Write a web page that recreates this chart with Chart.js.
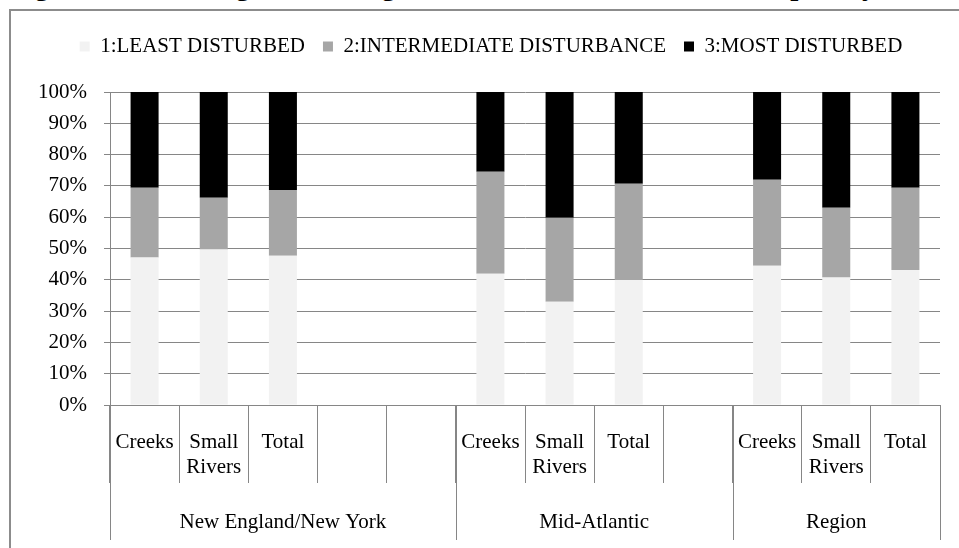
<!DOCTYPE html>
<html>
<head>
<meta charset="utf-8">
<script src="https://cdn.jsdelivr.net/npm/chart.js@4.4.1/dist/chart.umd.min.js"></script>
<style>
  html, body { margin: 0; padding: 0; background: #fff; overflow: hidden; }
  #wrap { position: relative; width: 959px; height: 548px; overflow: hidden; }
  #title { position: absolute; left: 9px; top: -29px; font: bold 29px "Liberation Serif", "Times New Roman", serif; line-height: 29px; white-space: nowrap; color: #000; }
  #frame { position: absolute; left: 9px; top: 9px; width: 2000px; height: 2000px; border: 2px solid #8c8c8c; }
  #myChart { position: absolute; left: 0; top: 0; }
</style>
</head>
<body>
<div id="wrap">
  <div id="title">Figure 4. Percentage of the Region's total wadeable stream samples by disturbance class</div>
  <div id="frame"></div>
  <canvas id="myChart" width="959" height="548"></canvas>
</div>
<script>
// categories (12 slots, some left blank like in the original sheet)
const labels = ['Creeks', ['Small', 'Rivers'], 'Total', '', '',
                'Creeks', ['Small', 'Rivers'], 'Total', '',
                'Creeks', ['Small', 'Rivers'], 'Total'];
const groups = ['New England/New York', 'Mid-Atlantic', 'Region'];
const groupBounds = [0, 5, 9, 12];

const leastDisturbed = [47.1, 49.7, 47.7, null, null, 41.9, 33.0, 39.9, null, 44.5, 40.7, 43.1];
const intermediate   = [22.3, 16.5, 21.0, null, null, 32.6, 26.8, 30.8, null, 27.5, 22.3, 26.3];
const mostDisturbed  = [30.6, 33.8, 31.3, null, null, 25.5, 40.2, 29.3, null, 28.0, 37.0, 30.6];

const font = '"Liberation Serif", "Times New Roman", serif';
const gridColor = '#868686';

Chart.defaults.color = '#000';
Chart.defaults.font.family = font;

// push the plot down under the legend, and nudge the legend right a bit
const legendMargin = {
    id: 'legendMargin',
    beforeInit(chart) {
        const fitValue = chart.legend.fit;
        chart.legend.fit = function fit() {
            fitValue.bind(chart.legend)();
            this.height = 74;
        };
    },
    afterLayout(chart) {
        chart.legend.left += 2;
        chart.legend.right += 2;
    }
};

// group separators and group names under the category labels
const groupAxis = {
    id: 'groupAxis',
    afterDraw(chart) {
        const ctx = chart.ctx;
        const x = chart.scales.x;
        const slot = x.width / labels.length;
        const edge = (i) => x.getPixelForValue(0) - slot / 2 + i * slot;
        ctx.save();
        ctx.strokeStyle = gridColor;
        ctx.lineWidth = 1;
        groupBounds.forEach(function(b) {
            const px = Math.round(edge(b)) + 0.5;
            ctx.beginPath();
            ctx.moveTo(px, x.top);
            ctx.lineTo(px, 540);
            ctx.stroke();
        });
        ctx.fillStyle = '#000';
        ctx.font = '21px ' + font;
        ctx.textAlign = 'center';
        ctx.textBaseline = 'middle';
        groups.forEach(function(g, i) {
            ctx.fillText(g, (edge(groupBounds[i]) + edge(groupBounds[i + 1])) / 2, 522);
        });
        ctx.restore();
    }
};

const data = {
    labels: labels,
    datasets: [{
        label: '1:LEAST DISTURBED',
        backgroundColor: '#f2f2f2',
        data: leastDisturbed,
    }, {
        label: '2:INTERMEDIATE DISTURBANCE',
        backgroundColor: '#a6a6a6',
        data: intermediate,
    }, {
        label: '3:MOST DISTURBED',
        backgroundColor: '#000000',
        data: mostDisturbed,
    }]
};

const config = {
    type: 'bar',
    data: data,
    options: {
        responsive: false,
        animation: false,
        categoryPercentage: 1,
        barPercentage: 0.405,
        layout: { padding: { left: 38, right: 19, top: 18, bottom: 0 } },
        plugins: {
            legend: {
                position: 'top',
                labels: {
                    boxWidth: 10,
                    boxHeight: 10,
                    padding: 18,
                    font: { size: 21, family: font },
                    color: '#000'
                }
            },
            tooltip: { enabled: false }
        },
        scales: {
            x: {
                stacked: true,
                grid: {
                    offset: true,
                    drawOnChartArea: false,
                    tickLength: 78,
                    color: gridColor
                },
                border: { color: gridColor },
                ticks: {
                    maxRotation: 0,
                    autoSkip: false,
                    padding: -53,
                    font: { size: 21, family: font },
                    color: '#000'
                },
                afterFit(scale) { scale.height = 143; }
            },
            y: {
                stacked: true,
                min: 0,
                max: 100,
                grid: { color: gridColor, tickLength: 6 },
                border: { color: gridColor },
                ticks: {
                    stepSize: 10,
                    padding: 17,
                    font: { size: 21, family: font },
                    color: '#000',
                    callback: (v) => v + '%'
                },
                afterFit(scale) { scale.width = 72; }
            }
        }
    },
    plugins: [legendMargin, groupAxis]
};

const myChart = new Chart(
    document.getElementById('myChart'),
    config
);
</script>
</body>
</html>
